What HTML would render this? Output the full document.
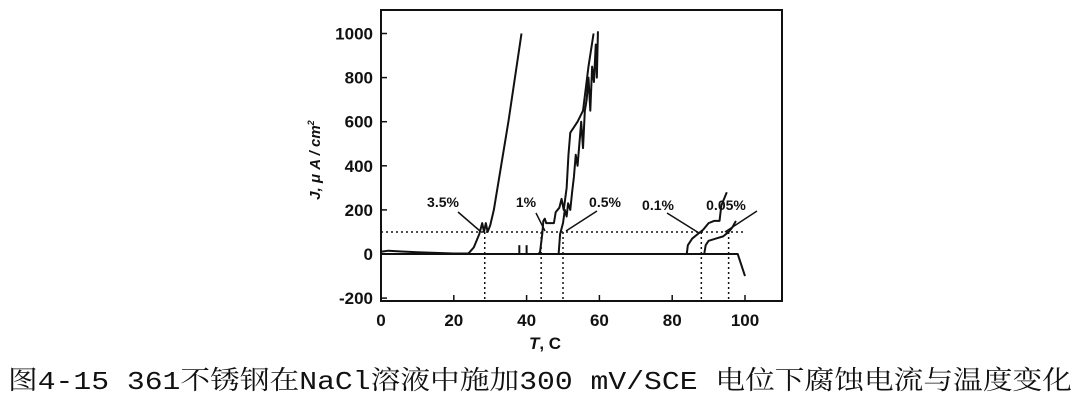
<!DOCTYPE html>
<html><head><meta charset="utf-8"><style>
html,body{margin:0;padding:0;background:#fff;}
svg{display:block;}
</style></head><body>
<svg id="chart" width="1080" height="401" viewBox="0 0 1080 401" xmlns="http://www.w3.org/2000/svg">
<g id="plot"></g>
<text x="8" y="389" font-size="26" textLength="1064" lengthAdjust="spacingAndGlyphs" font-family="'Liberation Mono','Noto Serif CJK SC',serif" fill="#111">图4-15  361不锈钢在NaCl溶液中施加300 mV/SCE 电位下腐蚀电流与温度变化</text>
</svg>
<script>
const xTicks=[0,20,40,60,80,100];
const yTicks=[-200,0,200,400,600,800,1000];
const s35T=[0,2,5,10,15,20,24,25.5,27,27.8,28.3,28.8,29.3,30,31,33,35,36.8,38.6];
const s35J=[10,15,12,8,5,2,2,30,90,140,100,140,100,130,200,400,600,800,1000];
const s1T=[43.3,43.7,44.3,44.6,45,45.4,47.5,48,49,49.6,50.2,51,51.5,52,54,55.5,57,58.4];
const s1J=[0,10,90,150,160,140,140,190,210,250,200,300,450,550,600,650,850,1000];
const s05T=[48.8,49.2,50,50.5,51,51.4,52,52.5,53,53.5,54,54.5,55,55.5,56,56.5,57,57.5,58,58.5,59,59.3,59.6];
const s05J=[0,90,140,200,170,230,200,280,350,450,400,500,600,480,650,700,800,650,850,780,950,800,1010];
const s01T=[84,84.3,85.5,87,88.5,90,91.5,93,93.5,95];
const s01J=[0,40,70,90,110,140,150,150,220,280];
const s005T=[88.8,89.2,90,92,94,95.5,96.5,97.5];
const s005J=[0,40,60,70,80,100,120,150];
const baseT=[0,98,100];
const baseJ=[0,0,-100];
const spikeT=[38,40];
const spikeJ=[40,40];
const critT=[28.5,44,50,88,95.5];
const labels=["3.5%","1%","0.5%","0.1%","0.05%"];
const labelX=[443,526,605,658,726];
const labelY=[207,207,207,210,210];
const leaderEnd=[[458,212,480,231],[536,213,545,231],[597,211,566,231],[667,213,699,233],[757,211,725,232]];

const X0=381,XS=3.64,Y0=254,YS=0.2205;
const xs=v=>X0+v*XS, ys=v=>Y0-v*YS;
const NS="http://www.w3.org/2000/svg";
const g=document.getElementById('plot');
function mk(tag,attrs){const e=document.createElementNS(NS,tag);for(const k in attrs)e.setAttribute(k,attrs[k]);g.appendChild(e);return e;}
// frame
let f=mk('rect',{x:381,y:10,width:401,height:291,fill:'none',stroke:'#111','stroke-width':2});


xTicks.forEach(t=>{
 let l=mk('line',{x1:xs(t),x2:xs(t),y1:301,y2:295,stroke:'#111','stroke-width':1.5});
 
 
 let tx=mk('text',{x:xs(t),y:326,'text-anchor':'middle','font-size':17,'font-weight':'bold','font-family':'Liberation Sans,sans-serif',fill:'#111'});
 tx.textContent=t;
 
 
});
yTicks.forEach(t=>{
 let l=mk('line',{x1:381,x2:387,y1:ys(t),y2:ys(t),stroke:'#111','stroke-width':1.5});
 
 
 let tx=mk('text',{x:373,y:ys(t)+6,'text-anchor':'end','font-size':17,'font-weight':'bold','font-family':'Liberation Sans,sans-serif',fill:'#111'});
 tx.textContent=t;
 
 
});
let yt=mk('text',{x:0,y:0,transform:'translate(320,160) rotate(-90)','text-anchor':'middle','font-size':15,'font-weight':'bold','font-style':'italic','font-family':'Liberation Sans,sans-serif',fill:'#111'});
yt.innerHTML='J, μ A / cm<tspan dy="-6" font-size="9">2</tspan>';


let xt=mk('text',{x:545,y:349,'text-anchor':'middle','font-size':17,'font-weight':'bold','font-family':'Liberation Sans,sans-serif',fill:'#111'});
xt.innerHTML='<tspan font-style="italic">T</tspan>, C';


// dotted reference
let hr=mk('line',{x1:xs(0),x2:xs(100),y1:ys(100),y2:ys(100),stroke:'#111','stroke-width':1.5,'stroke-dasharray':'2,3'});


critT.forEach(t=>{
 let l=mk('line',{x1:xs(t),x2:xs(t),y1:ys(100),y2:301,stroke:'#111','stroke-width':1.5,'stroke-dasharray':'2,3'});
 
 
});
function series(T,J,name){
 let p=mk('polyline',{points:T.map((t,i)=>xs(t)+','+ys(J[i])).join(' '),fill:'none',stroke:'#111','stroke-width':2,'stroke-linejoin':'round'});
 
 
}
series(baseT,baseJ,'baseline-series');
series(s35T,s35J,'series-3.5pct');
series(s1T,s1J,'series-1pct');
series(s05T,s05J,'series-0.5pct');
series(s01T,s01J,'series-0.1pct');
series(s005T,s005J,'series-0.05pct');
spikeT.forEach((t,i)=>{
 let l=mk('line',{x1:xs(t),x2:xs(t),y1:ys(0),y2:ys(spikeJ[i]),stroke:'#111','stroke-width':2});
 
 
});
labels.forEach((lb,i)=>{
 let tx=mk('text',{x:labelX[i],y:labelY[i],'text-anchor':'middle','font-size':14,'font-weight':'bold','font-family':'Liberation Sans,sans-serif',fill:'#111'});
 tx.textContent=lb;
 
 
 const e=leaderEnd[i];
 let l=mk('line',{x1:e[0],y1:e[1],x2:e[2],y2:e[3],stroke:'#111','stroke-width':1.5});
 
 
});
</script>
</body></html>
